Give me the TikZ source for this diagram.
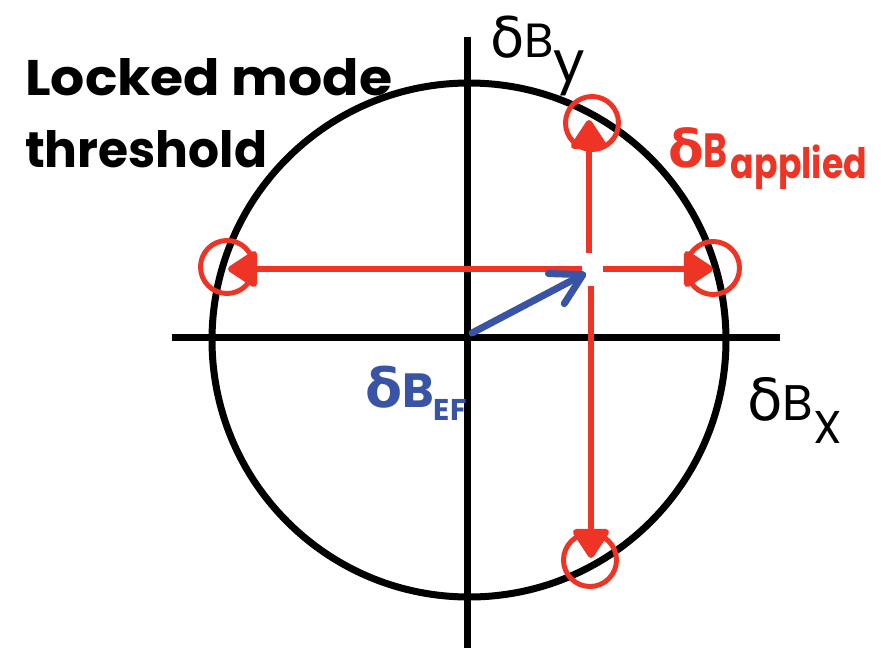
\documentclass[tikz,border=0pt]{standalone}
\usepackage{fontspec}
\setmainfont{Poppins}
\newfontfamily\dfont{DejaVu Sans}
\usetikzlibrary{arrows.meta}
\definecolor{rd}{RGB}{238,52,36}
\definecolor{bl}{RGB}{58,84,165}
\tikzset{
  axisline/.style={line width=7pt,black},
  thresh/.style={circle,draw=black,line width=7pt,minimum size=514pt,inner sep=0pt},
  mark circ/.style={circle,draw=rd,line width=5pt,minimum size=53pt,inner sep=0pt},
  redarrow/.style={draw=rd,line width=6.5pt,-{Triangle[length=32pt,width=40pt,round]}},
  bluearrow/.style={draw=bl,line width=7pt,line cap=round,-{Straight Barb[length=30pt,width=34pt,round]}},
  lab/.style={inner sep=0pt,anchor=base west}
}
\begin{document}
\begin{tikzpicture}[x=1pt,y=-1pt]
\useasboundingbox (0,0) rectangle (884,648);
% axes
\coordinate (yt) at (467,37);
\coordinate (yb) at (467,648);
\coordinate (xl) at (172,337);
\coordinate (xr) at (780,337);
\draw[axisline] (yt) -- (yb);
\draw[axisline] (xl) -- (xr);
% threshold circle
\node[thresh] (th) at (469,340) {};
% marker circles
\node[mark circ] (cu) at (592,123) {};
\node[mark circ] (cr) at (713,268) {};
\node[mark circ] (cl) at (227,267) {};
\node[mark circ] (cd) at (590,560) {};
% red arrows
\coordinate (su) at (589,253);
\coordinate (sd) at (591,286);
\coordinate (sl) at (582,269);
\coordinate (sr) at (603,269);
\coordinate (tu) at (589,120);
\coordinate (td) at (591,558);
\coordinate (tl) at (228,269);
\coordinate (tr) at (713,269);
\draw[redarrow] (su) -- (tu);
\draw[redarrow] (sd) -- (td);
\draw[redarrow] (sl) -- (tl);
\draw[redarrow] (sr) -- (tr);
% blue arrow
\coordinate (o) at (472,333);
\coordinate (bt) at (586,273);
\draw[bluearrow] (o) -- (bt);
% labels
\node[lab] (t1) at (25,95) {\resizebox{367pt}{\height}{\fontsize{50}{52}\selectfont\bfseries Locked mode}};
\node[lab] (t2) at (25,167) {\resizebox{242pt}{\height}{\fontsize{50}{52}\selectfont\bfseries threshold}};
\node[lab,text=rd] (la) at (668,167) {{\dfont\bfseries\fontsize{52}{56}\selectfont δ}\resizebox{24pt}{\height}{\fontsize{48}{50}\selectfont\bfseries B}\hspace{3pt}\raisebox{-11pt}{\resizebox{136pt}{\height}{\fontsize{42}{44}\selectfont\bfseries applied}}};
\node[lab,text=bl] (le) at (365,407) {{\dfont\bfseries\fontsize{54}{56}\selectfont δ}{\fontsize{48}{50}\selectfont\bfseries B}\raisebox{-13pt}{\fontsize{30}{32}\selectfont\bfseries EF}};
\node[lab] (lx) at (747,420) {{\dfont\fontsize{58}{60}\selectfont δ}{\fontsize{50}{52}\selectfont B}\raisebox{-23pt}{\fontsize{46}{48}\selectfont X}};
\node[lab] (ly) at (490,57) {{\dfont\fontsize{56}{58}\selectfont δ}{\fontsize{48}{50}\selectfont B}\raisebox{-24pt}{\fontsize{56}{58}\selectfont y}};
\end{tikzpicture}
\end{document}
